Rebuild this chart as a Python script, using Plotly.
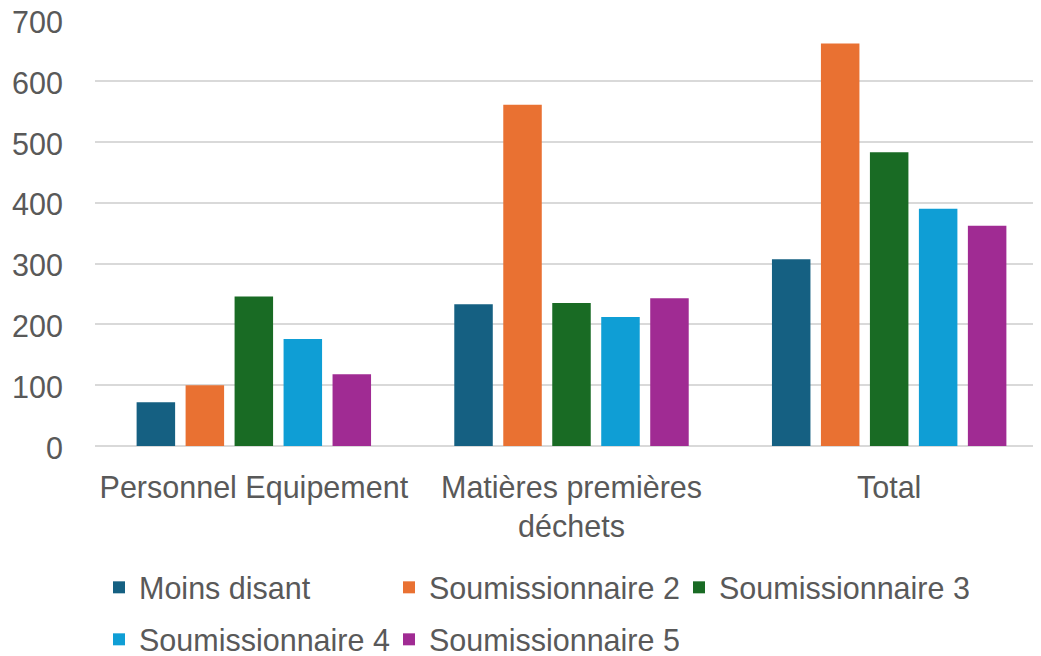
import plotly.graph_objects as go

categories = ["Personnel Equipement", "Matières premières<br>déchets", "Total"]
series_names = ["Moins disant", "Soumissionnaire 2", "Soumissionnaire 3",
                "Soumissionnaire 4", "Soumissionnaire 5"]
moins_disant = [72, 233, 307]
soum2 = [100, 561, 662]
soum3 = [246, 235, 483]
soum4 = [176, 212, 390]
soum5 = [118, 243, 362]
y_ticks = [0, 100, 200, 300, 400, 500, 600, 700]

values = [moins_disant, soum2, soum3, soum4, soum5]
colors = ["#156082", "#E97132", "#196B24", "#0F9ED5", "#A02B93"]
legends = ["legend", "legend", "legend", "legend2", "legend2"]

FONT = "Liberation Sans, Arial, sans-serif"
GREY = "#595959"
FS = 30.5

fig = go.Figure()
for name, vals, col, lg in zip(series_names, values, colors, legends):
    fig.add_trace(go.Bar(name=name, x=categories, y=vals, marker_color=col,
                         marker_line_width=0, legend=lg))

legend_common = dict(orientation="h", xref="container", yref="container",
                     xanchor="left", yanchor="top",
                     font=dict(family=FONT, size=FS, color=GREY),
                     entrywidthmode="pixels", entrywidth=245,
                     bgcolor="rgba(0,0,0,0)", itemclick=False)

fig.update_layout(
    width=1041, height=656,
    margin=dict(l=87, r=1, t=12, b=218),
    paper_bgcolor="white", plot_bgcolor="white",
    barmode="group", bargap=0.229, bargroupgap=0.214,
    font=dict(family=FONT, size=FS, color=GREY),
    legend=dict(x=91 / 1041, y=1 - 553 / 656, **legend_common),
    legend2=dict(x=91 / 1041, y=1 - 605 / 656, **legend_common),
    xaxis=dict(showgrid=False, showline=False, zeroline=False,
               automargin=False,
               ticks="", ticklabelstandoff=20,
               tickfont=dict(family=FONT, size=FS, color=GREY)),
    yaxis=dict(range=[0, 700.5], tickvals=y_ticks, showgrid=True,
               gridcolor="#D9D9D9", gridwidth=1.5, zeroline=True,
               zerolinecolor="#D9D9D9", zerolinewidth=1.5, showline=False,
               automargin=False, ticks="", ticklabelstandoff=31,
               ticklabeloverflow="allow", ticklabelshift=2,
               tickfont=dict(family=FONT, size=FS, color=GREY)),
)

fig.write_html("out.html")
